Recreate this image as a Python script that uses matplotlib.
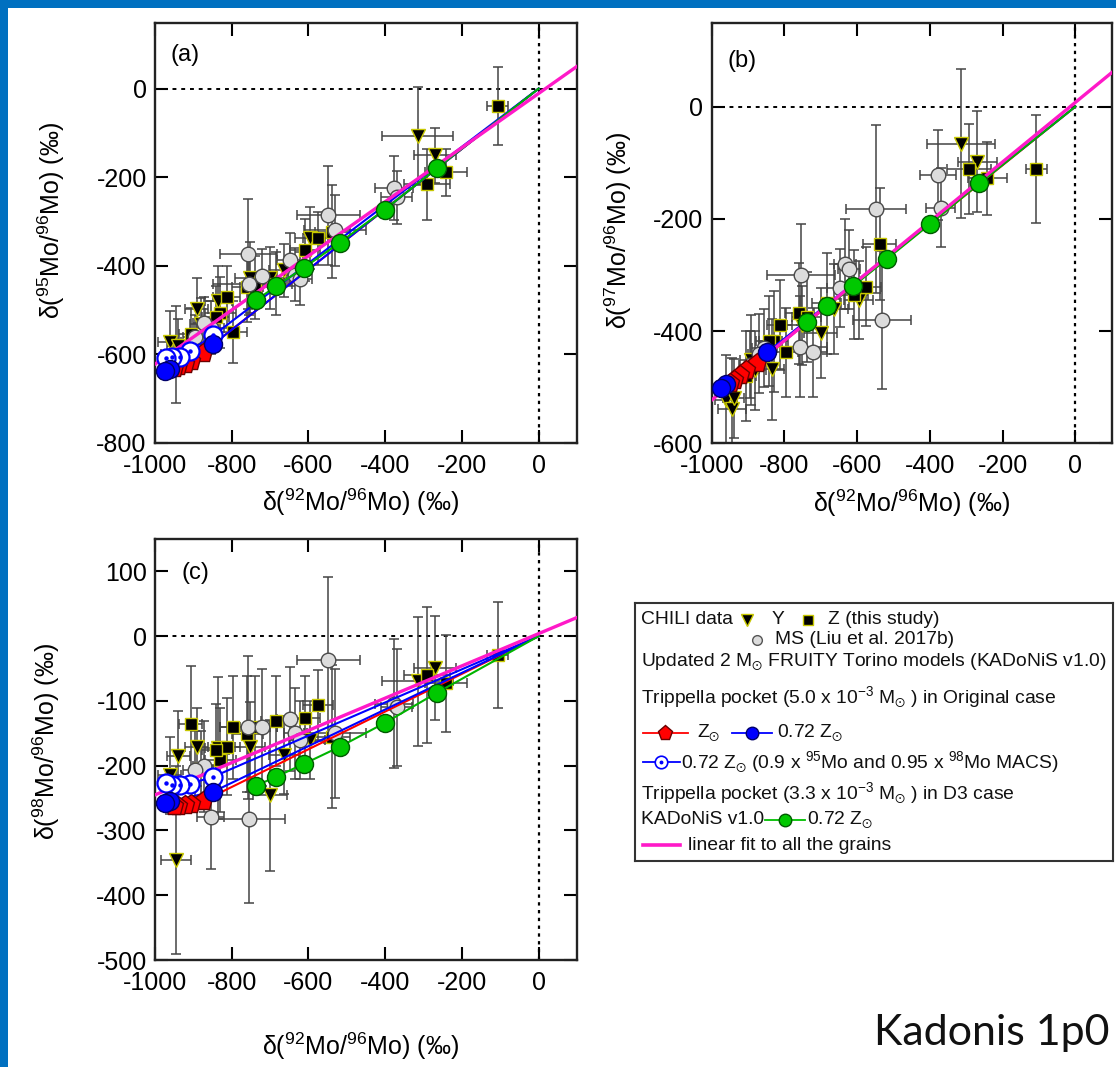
import numpy as np
import matplotlib
matplotlib.use('Agg')
import matplotlib.pyplot as plt
from matplotlib.patches import Rectangle

plt.rcParams['font.family'] = ['Liberation Sans', 'DejaVu Sans']
plt.rcParams['mathtext.fontset'] = 'custom'
plt.rcParams['mathtext.rm'] = 'Liberation Sans'
plt.rcParams['mathtext.it'] = 'Liberation Sans:italic'
plt.rcParams['mathtext.bf'] = 'Liberation Sans:bold'
plt.rcParams['mathtext.sf'] = 'Liberation Sans'
plt.rcParams['mathtext.fallback'] = 'stixsans'
plt.rcParams['axes.unicode_minus'] = False

# --- CHILI Y grains: d92, err, then d95/d97/d98 with errors (permil)
y_x   = [-315, -270, -596, -664, -700, -752, -835, -891, -880, -961, -945, -940]
y_xe  = [93, 54, 40, 40, 45, 40, 35, 30, 30, 30, 39, 30]
y_d95 = [-107, -151, -337, -410, -427, -427, -480, -498, -532, -572, -600, -580]
y_e95 = [110, 62, 70, 60, 70, 80, 80, 70, 60, 70, 110, 60]
y_d97 = [-66, -98, -345, -360, -404, -390, -468, -451, -470, -523, -538, -520]
y_e97 = [133, 90, 70, 80, 80, 70, 90, 80, 70, 80, 90, 70]
y_d98 = [-70, -49, -160, -183, -246, -171, -173, -171, -206, -215, -345, -185]
y_e98 = [100, 80, 60, 60, 117, 70, 110, 60, 60, 60, 145, 70]

# --- CHILI Z grains
z_x   = [-107, -292, -242, -538, -575, -609, -684, -759, -739, -796, -830, -813, -907, -842]
z_xe  = [28, 60, 54, 45, 40, 40, 40, 40, 40, 35, 40, 35, 30, 35]
z_d95 = [-40, -216, -189, -323, -338, -365, -440, -447, -449, -549, -506, -470, -555, -515]
z_e95 = [88, 80, 53, 105, 60, 70, 70, 80, 70, 70, 80, 70, 60, 70]
z_d97 = [-111, -111, -128, -245, -321, -335, -350, -368, -375, -438, -418, -389, -480, -418]
z_e97 = [96, 80, 65, 100, 70, 80, 90, 90, 80, 80, 90, 80, 80, 80]
z_d98 = [-29, -60, -73, -155, -107, -126, -131, -151, -141, -141, -191, -171, -136, -175]
z_e98 = [82, 105, 75, 110, 55, 65, 70, 90, 80, 80, 80, 75, 90, 70]

# --- MS grains (Liu et al. 2017b)
ms_x   = [-377, -370, -548, -531, -648, -634, -622, -757, -722, -855, -755, -871, -896]
ms_xe  = [50, 40, 83, 80, 35, 30, 30, 74, 40, 35, 93, 30, 30]
ms_d95 = [-224, -245, -286, -320, -386, -420, -429, -373, -423, -540, -440, -530, -560]
ms_e95 = [72, 60, 112, 80, 60, 60, 60, 124, 60, 60, 70, 60, 50]
ms_d97 = [-122, -180, -182, -380, -323, -281, -290, -428, -438, -430, -300, -440, -460]
ms_e97 = [80, 70, 150, 123, 70, 80, 70, 90, 80, 70, 90, 70, 60]
ms_d98 = [-104, -110, -37, -150, -128, -150, -160, -141, -141, -279, -282, -201, -206]
ms_e98 = [100, 90, 128, 100, 80, 70, 60, 110, 90, 80, 130, 70, 60]

# --- FRUITY Torino models, C>O pulses (all tracks start from solar, 0,0)
red_x   = [-876, -906, -922, -940, -950]
red_d95 = [-596, -615, -622, -626, -630]
red_d97 = [-457, -469, -478, -487, -492]
red_d98 = [-255, -259, -261, -263, -263]

blue_x   = [-848, -960, -974]
blue_d95 = [-577, -632, -637]
blue_d97 = [-438, -495, -502]
blue_d98 = [-240, -255, -258]

open_x   = [-848, -909, -935, -955, -972]
open_d95 = [-557, -592, -605, -607, -609]
open_d98 = [-217, -228, -230, -230, -226]

green_x   = [-264, -401, -519, -611, -684, -737]
green_d95 = [-179, -273, -348, -404, -446, -478]
green_d97 = [-137, -210, -272, -320, -356, -384]
green_d98 = [-87, -134, -171, -197, -217, -231]

# linear fit to all grains: slope, intercept for 95, 97, 98
fit_slope = [0.611, 0.5305, 0.249]
fit_icpt = [-11.0, 7.5, 3.9]

W, H = 1116, 1067
fig = plt.figure(figsize=(W / 100, H / 100), dpi=100, facecolor='white')

# slide frame
fig.add_artist(Rectangle((0, 1 - 8 / H), 1, 8 / H, transform=fig.transFigure,
                         color='#0070c0', lw=0))
fig.add_artist(Rectangle((0, 0), 8 / W, 1, transform=fig.transFigure,
                         color='#0070c0', lw=0))

FS = 18
EC = '#444444'
YEL = '#c8c800'


def panel(rect, ylim, yticks, ydata, yerrs, models, fitk, tag, ylab,
          ylab_pos, xlab_pos, tag_pos):
    ax = fig.add_axes(rect)
    ax.set_xlim(-1000, 100)
    ax.set_ylim(*ylim)
    ax.axhline(0, color='k', lw=1.4, ls=(0, (2, 2.5)), zorder=1)
    ax.axvline(0, color='k', lw=1.6, ls=(0, (1.5, 2)), zorder=1)

    groups = [
        (y_x, y_xe, ydata[0], yerrs[0], dict(marker='v', ms=10, mfc='k', mec=YEL)),
        (z_x, z_xe, ydata[1], yerrs[1], dict(marker='s', ms=9, mfc='k', mec=YEL)),
        (ms_x, ms_xe, ydata[2], yerrs[2], dict(marker='o', ms=10.5, mfc='#dcdcdc', mec='#4a4a4a')),
    ]
    for gx, gxe, gy, gye, _ in groups:
        ax.errorbar(gx, gy, xerr=gxe, yerr=gye, fmt='none', ecolor=EC,
                    elinewidth=1.1, capsize=3.5, capthick=1.1, zorder=2)
    for gx, gxe, gy, gye, st in groups:
        ax.plot(gx, gy, ls='none', mew=1.0, zorder=3, **st)

    xs = np.linspace(-1000, 100, 2)
    ax.plot(xs, fit_slope[fitk] * xs + fit_icpt[fitk], color='#ff19c8',
            lw=2.4, zorder=5)

    for mx, my, col, st in models:
        ax.plot(np.r_[0, mx], np.r_[0, my], color=col, lw=1.5, zorder=4)
        ax.plot(mx, my, ls='none', zorder=6, **st)
        if st.get('mfc') == 'white':
            ax.plot(mx, my, ls='none', marker='o', ms=2.2, color=col, zorder=7)

    ax.set_xticks(np.arange(-1000, 1, 200))
    ax.set_yticks(yticks)
    ax.tick_params(direction='in', length=9.5, width=1.5, top=True,
                   right=True, labelsize=FS)
    ax.tick_params(axis='x', pad=8)
    ax.tick_params(axis='y', pad=6)
    for s in ax.spines.values():
        s.set_linewidth(1.7)
        s.set_color('#222222')
    ax.set_xlabel('δ($^{92}$Mo/$^{96}$Mo) (‰)', fontsize=FS)
    ax.set_ylabel(ylab, fontsize=FS)
    ax.xaxis.set_label_coords(*xlab_pos)
    ax.yaxis.set_label_coords(*ylab_pos)
    ax.text(tag_pos[0], tag_pos[1], tag, transform=ax.transAxes,
            fontsize=17, va='center', ha='left')
    return ax


red_st = dict(marker='p', ms=14, mfc='#ff0000', mec='#6a0000', mew=1.0)
blue_st = dict(marker='o', ms=13, mfc='#0000ff', mec='#00006a', mew=1.0)
open_st = dict(marker='o', ms=13, mfc='white', mec='#0000ff', mew=1.6)
green_st = dict(marker='o', ms=13, mfc='#00c800', mec='#005a00', mew=1.0)

# (a) 95Mo
panel([155 / W, 1 - 443 / H, 422 / W, 420 / H], (-800, 148),
      np.arange(-800, 1, 200),
      (y_d95, z_d95, ms_d95), (y_e95, z_e95, ms_e95),
      [(red_x, red_d95, '#ff0000', red_st),
       (open_x, open_d95, '#0000ff', open_st),
       (blue_x, blue_d95, '#0000ff', blue_st),
       (green_x, green_d95, '#00b400', green_st)],
      0, '(a)', 'δ($^{95}$Mo/$^{96}$Mo) (‰)',
      (-0.209, 0.53), (0.486, -0.105), (0.036, 0.924))

# (b) 97Mo
panel([711.7 / W, 1 - 443.3 / H, 400 / W, 420.3 / H], (-600, 149),
      np.arange(-600, 1, 200),
      (y_d97, z_d97, ms_d97), (y_e97, z_e97, ms_e97),
      [(red_x, red_d97, '#ff0000', red_st),
       (blue_x, blue_d97, '#0000ff', blue_st),
       (green_x, green_d97, '#00b400', green_st)],
      1, '(b)', 'δ($^{97}$Mo/$^{96}$Mo) (‰)',
      (-0.194, 0.507), (0.5, -0.105), (0.04, 0.91))

# (c) 98Mo
panel([155 / W, 1 - 960 / H, 422 / W, 421 / H], (-500, 150),
      np.arange(-500, 101, 100),
      (y_d98, z_d98, ms_d98), (y_e98, z_e98, ms_e98),
      [(red_x, red_d98, '#ff0000', red_st),
       (open_x, open_d98, '#0000ff', open_st),
       (blue_x, blue_d98, '#0000ff', blue_st),
       (green_x, green_d98, '#00b400', green_st)],
      2, '(c)', 'δ($^{98}$Mo/$^{96}$Mo) (‰)',
      (-0.22, 0.52), (0.486, -0.168), (0.062, 0.919))

# legend box, laid out in pixel units
lax = fig.add_axes([635 / W, 1 - 861 / H, 478 / W, 258 / H])
lax.set_xlim(635, 1113)
lax.set_ylim(861, 603)
lax.set_xticks([])
lax.set_yticks([])
for s in lax.spines.values():
    s.set_linewidth(1.5)
    s.set_color('#333333')

LF = 13.9
sun = r'M$_{\odot}$'
zsun = r'Z$_{\odot}$'


def ltxt(x, y, s):
    lax.text(x, y, s, fontsize=LF, va='center', ha='left', color='#111111')


ltxt(641, 620, 'CHILI data')
lax.plot([747], [620], marker='v', ms=8, mfc='k', mec=YEL, ls='none')
ltxt(772, 620, 'Y')
lax.plot([808], [620], marker='s', ms=7, mfc='k', mec=YEL, ls='none')
ltxt(828, 620, 'Z (this study)')
lax.plot([757], [640], marker='o', ms=7, mfc='#dcdcdc', mec='#555555', ls='none')
ltxt(775, 640, 'MS (Liu et al. 2017b)')
ltxt(641, 662, 'Updated 2 ' + sun + ' FRUITY Torino models (KADoNiS v1.0)')
ltxt(641, 697, r'Trippella pocket (5.0 x 10$^{-3}$ ' + sun + ' ) in Original case')
lax.plot([643, 688], [733, 733], color='#ff0000', lw=1.3)
lax.plot([665], [733], marker='p', ms=11, mfc='#ff0000', mec='#6a0000', ls='none')
ltxt(697, 733, zsun)
lax.plot([732, 772], [733, 733], color='#0000ff', lw=1.3)
lax.plot([752], [733], marker='o', ms=9, mfc='#0000ff', mec='#00006a', ls='none')
ltxt(777, 733, '0.72 ' + zsun)
lax.plot([643, 680], [762, 762], color='#0000ff', lw=1.3)
lax.plot([661], [762], marker='o', ms=9, mfc='white', mec='#0000ff', mew=1.2, ls='none')
lax.plot([661], [762], marker='o', ms=1.8, color='#0000ff', ls='none')
ltxt(681, 762, '0.72 ' + zsun + r' (0.9 x $^{95}$Mo and 0.95 x $^{98}$Mo MACS)')
ltxt(641, 793, r'Trippella pocket (3.3 x 10$^{-3}$ ' + sun + ' ) in D3 case')
ltxt(641, 820, 'KADoNiS v1.0')
lax.plot([765, 805], [820, 820], color='#00c000', lw=1.3)
lax.plot([785], [820], marker='o', ms=9, mfc='#00c800', mec='#005a00', ls='none')
ltxt(807, 820, '0.72 ' + zsun)
lax.plot([643, 680], [845, 845], color='#ff19c8', lw=2.6)
ltxt(688, 845, 'linear fit to all the grains')

fig.text(1110 / W, 1 - 1033 / H, 'Kadonis 1p0', fontsize=31, family='Lato',
         ha='right', va='center', color='#111111')

fig.savefig('out.png', dpi=100, facecolor='white')
